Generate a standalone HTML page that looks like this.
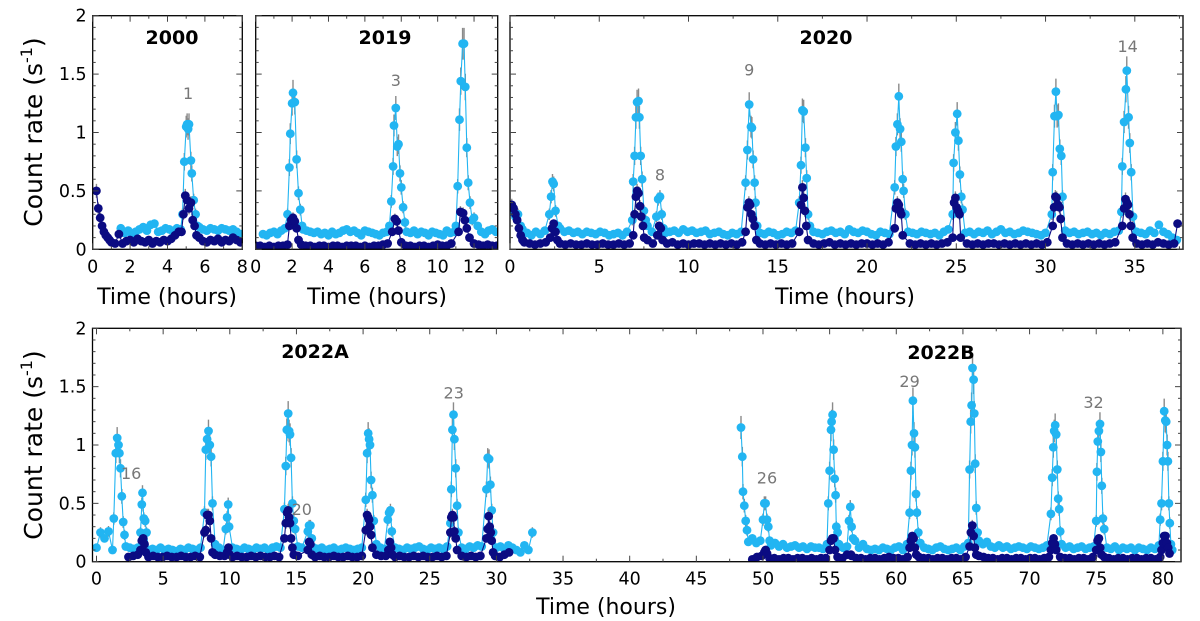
<!DOCTYPE html>
<html><head><meta charset="utf-8"><style>
html,body{margin:0;padding:0;background:#fff}
svg{display:block}
text{font-family:"DejaVu Sans","Liberation Sans",sans-serif}
</style></head><body>
<svg id="chart" width="1200" height="621" viewBox="0 0 1200 621" xmlns="http://www.w3.org/2000/svg"></svg>
<script>
// ---- data (time in hours, count rate in s^-1) ----
// base segments: [startTime, step, values]
const p1LightBase=[[1.5,0.2,[0.18,0.14,0.16,0.13,0.15,0.17,0.19,0.16,0.21,0.22,0.15,0.16,0.18,0.17,0.15,0.18,0.17]],[5.7,0.2,[0.19,0.17,0.16,0.18,0.17,0.16,0.18,0.17,0.16,0.17,0.15,0.13]]];
const p1LightFlare=[[4.8,0.3],[4.9,0.75],[5.0,1.05],[5.05,1.07],[5.1,1.03],[5.15,1.07],[5.25,0.76],[5.3,0.65],[5.4,0.42],[5.5,0.3],[5.6,0.2]];
const p1DarkBase=[[1.0,0.2,[0.06,0.05,0.13,0.05,0.07,0.08,0.06,0.09,0.07,0.06,0.08,0.05,0.07,0.06,0.08,0.07,0.09,0.12,0.15]],[5.7,0.2,[0.1,0.07,0.06,0.08,0.07,0.09,0.06,0.08,0.07,0.1,0.08,0.06]]];
const p1DarkFlare=[[0.2,0.5],[0.3,0.35],[0.4,0.27],[0.5,0.2],[0.6,0.15],[0.7,0.12],[0.8,0.1],[0.9,0.08],[4.75,0.15],[4.85,0.3],[4.95,0.46],[5.05,0.42],[5.15,0.35],[5.25,0.4],[5.35,0.25],[5.45,0.2],[5.55,0.12]];

const p2LightBase=[[0.4,0.2,[0.13,0.12,0.14,0.15,0.13,0.16,0.18]],[2.6,0.2,[0.17,0.16,0.15,0.14,0.15,0.13,0.14,0.12,0.15,0.13,0.14,0.16,0.17,0.15,0.16,0.14,0.12,0.16,0.15,0.14,0.13,0.12,0.14,0.15]],[8.3,0.2,[0.15,0.14,0.16,0.13,0.15,0.14,0.12,0.15,0.14,0.13,0.12,0.16,0.14,0.15]],[12.0,0.2,[0.27,0.2,0.15,0.13,0.16,0.17,0.15]]];
const p2LightFlare=[[1.75,0.3],[1.85,0.7],[1.9,0.99],[2.0,1.25],[2.05,1.34],[2.15,1.26],[2.25,0.77],[2.35,0.48],[2.45,0.34],[2.55,0.2],[7.35,0.2],[7.45,0.41],[7.55,0.71],[7.6,1.06],[7.7,1.21],[7.78,0.88],[7.85,0.9],[7.93,0.65],[8.0,0.53],[8.1,0.36],[8.2,0.23],[11.0,0.2],[11.1,0.54],[11.2,1.11],[11.27,1.44],[11.37,1.76],[11.45,1.76],[11.52,1.39],[11.6,0.87],[11.68,0.57],[11.78,0.4],[11.9,0.25]];
const p2DarkBase=[[0,0.25,[0.03,0.03,0.02,0.03,0.02,0.03,0.03,0.04]],[2.5,0.25,[0.04,0.03,0.03,0.02,0.03,0.03,0.02,0.03,0.03,0.02,0.03,0.03,0.03,0.02,0.03,0.02,0.03,0.03,0.04,0.05]],[8.25,0.25,[0.03,0.03,0.02,0.03,0.03,0.02,0.03,0.04,0.03,0.03,0.05]],[12.0,0.25,[0.05,0.04,0.03,0.04,0.03,0.03]]];
const p2DarkFlare=[[1.85,0.2],[1.95,0.25],[2.05,0.27],[2.15,0.24],[2.25,0.18],[2.35,0.08],[7.5,0.15],[7.65,0.26],[7.75,0.24],[7.85,0.16],[8.0,0.06],[11.15,0.15],[11.25,0.32],[11.4,0.31],[11.5,0.25],[11.6,0.18],[11.75,0.1]];

const p3LightBase=[[0.7,0.25,[0.17,0.14,0.12,0.15,0.13,0.16]],[2.8,0.25,[0.18,0.15,0.16,0.14,0.15,0.13,0.15,0.14,0.13,0.15,0.14,0.12,0.13,0.14,0.12,0.15]],[7.7,0.25,[0.2,0.15]],[8.7,0.25,[0.14,0.15,0.16,0.14,0.17,0.15,0.16,0.14,0.15,0.16,0.13,0.14,0.15,0.13,0.12,0.14,0.13,0.15]],[14.0,0.25,[0.14,0.13,0.15,0.14,0.12,0.13,0.15,0.14,0.16]],[17.0,0.25,[0.15,0.14,0.13,0.15,0.16,0.14,0.15,0.13,0.17,0.15,0.14,0.16,0.15,0.13,0.12,0.15,0.14,0.13]],[22.3,0.25,[0.15,0.14,0.13,0.15,0.14,0.13,0.14,0.12,0.15,0.17]],[25.5,0.25,[0.14,0.15,0.13,0.15,0.14,0.16,0.13,0.15,0.17,0.14,0.15,0.13,0.14,0.16,0.15,0.14,0.13,0.12,0.14]],[31.1,0.25,[0.16,0.14,0.15,0.13,0.14,0.15,0.13,0.14,0.12,0.14,0.13,0.15,0.16]],[35.1,0.25,[0.15,0.14,0.13,0.16,0.14,0.21,0.15,0.13,0.1,0.08]]];
const p3LightFlare=[[0,0.36],[0.15,0.32],[0.3,0.28],[0.45,0.3],[0.6,0.2],[2.2,0.3],[2.3,0.45],[2.38,0.58],[2.45,0.56],[2.55,0.33],[2.7,0.2],[6.85,0.25],[6.9,0.58],[6.98,0.8],[7.05,1.13],[7.12,1.26],[7.2,1.27],[7.25,1.13],[7.32,0.8],[7.4,0.6],[7.5,0.33],[7.6,0.25],[8.2,0.28],[8.3,0.43],[8.4,0.45],[8.5,0.3],[8.6,0.18],[13.2,0.57],[13.3,0.85],[13.4,1.24],[13.5,1.05],[13.55,1.04],[13.62,0.77],[13.7,0.57],[13.75,0.4],[13.85,0.2],[16.2,0.4],[16.3,0.72],[16.38,1.19],[16.45,1.18],[16.55,0.87],[16.62,0.61],[16.7,0.3],[16.8,0.2],[21.55,0.53],[21.62,0.88],[21.7,1.07],[21.78,1.31],[21.85,1.03],[21.92,0.92],[22.0,0.6],[22.05,0.5],[22.15,0.3],[24.8,0.3],[24.85,0.74],[24.95,1.0],[25.05,1.16],[25.12,0.93],[25.2,0.64],[25.28,0.45],[25.35,0.34],[30.35,0.3],[30.4,0.66],[30.5,1.14],[30.58,1.35],[30.65,1.14],[30.72,1.15],[30.8,0.86],[30.88,0.8],[30.95,0.45],[34.25,0.32],[34.3,0.71],[34.4,1.09],[34.5,1.37],[34.55,1.53],[34.65,1.13],[34.72,0.91],[34.8,0.66],[34.9,0.28]];
const p3DarkBase=[[0.8,0.3,[0.06,0.05,0.04,0.05,0.06]],[2.8,0.3,[0.05,0.04,0.05,0.04,0.04,0.05,0.04,0.04,0.05,0.04,0.04,0.05,0.04,0.05]],[7.7,0.3,[0.08,0.05]],[8.8,0.3,[0.05,0.06,0.04,0.05,0.04,0.05,0.05,0.04,0.05,0.04,0.05,0.04,0.05,0.04,0.06]],[14.0,0.3,[0.05,0.04,0.05,0.04,0.05,0.04,0.05]],[17.0,0.3,[0.05,0.04,0.05,0.06,0.04,0.05,0.04,0.05,0.04,0.05,0.05,0.04,0.05,0.04,0.06]],[22.4,0.3,[0.05,0.04,0.05,0.04,0.05,0.04,0.05,0.06]],[25.6,0.3,[0.05,0.04,0.05,0.04,0.05,0.05,0.04,0.05,0.04,0.05,0.04,0.05,0.04,0.05,0.04,0.06]],[31.2,0.3,[0.05,0.04,0.05,0.04,0.05,0.04,0.05,0.04,0.05,0.06]],[35.1,0.3,[0.05,0.04,0.05,0.04,0.06,0.05,0.04,0.05]]];
const p3DarkFlare=[[0.1,0.38],[0.2,0.35],[0.3,0.3],[0.4,0.25],[0.5,0.18],[0.6,0.12],[0.7,0.08],[2.25,0.1],[2.35,0.18],[2.45,0.22],[2.55,0.15],[2.65,0.08],[6.9,0.12],[6.98,0.3],[7.05,0.45],[7.12,0.5],[7.2,0.48],[7.28,0.37],[7.35,0.28],[7.45,0.2],[7.52,0.1],[8.25,0.12],[8.35,0.2],[8.45,0.18],[8.55,0.08],[13.2,0.15],[13.3,0.36],[13.38,0.4],[13.45,0.38],[13.52,0.3],[13.6,0.26],[13.7,0.2],[13.8,0.08],[16.2,0.15],[16.3,0.38],[16.38,0.53],[16.45,0.44],[16.52,0.33],[16.6,0.2],[16.7,0.08],[21.55,0.18],[21.62,0.35],[21.7,0.4],[21.78,0.38],[21.85,0.33],[21.92,0.3],[22.0,0.12],[24.8,0.1],[24.88,0.4],[24.95,0.44],[25.02,0.36],[25.1,0.33],[25.18,0.3],[25.25,0.1],[30.4,0.2],[30.48,0.36],[30.55,0.45],[30.62,0.44],[30.7,0.38],[30.78,0.36],[30.85,0.26],[30.95,0.1],[34.3,0.2],[34.4,0.35],[34.48,0.43],[34.55,0.4],[34.62,0.38],[34.7,0.3],[34.78,0.2],[34.88,0.1],[37.4,0.22]];

const p4LightBase=[[0.0,0.3,[0.12,0.25,0.2,0.26,0.1]],[2.2,0.3,[0.13,0.12,0.11,0.12]],[3.9,0.3,[0.1,0.11,0.1,0.12,0.1,0.11,0.1,0.09,0.11,0.1,0.12,0.11,0.1,0.12]],[8.9,0.3,[0.15,0.12,0.1]],[10.2,0.3,[0.12,0.11,0.1,0.12,0.11,0.1,0.12,0.11,0.12,0.1,0.12,0.13,0.12]],[15.1,0.3,[0.13,0.12]],[16.3,0.3,[0.12,0.11,0.12,0.1,0.11,0.12,0.1,0.11,0.12,0.11,0.1,0.11,0.12]],[21.0,0.3,[0.15,0.12,0.11]],[22.4,0.3,[0.12,0.11,0.1,0.12,0.11,0.12,0.13,0.11,0.1,0.12,0.11,0.12,0.11,0.13]],[27.4,0.3,[0.12,0.11,0.13,0.12,0.14,0.13]],[30.0,0.3,[0.12,0.13,0.11,0.14,0.12,0.1,0.08,0.14,0.1,0.25]],
 [48.9,0.3,[0.17,0.2,0.16,0.18]],[50.6,0.3,[0.14,0.16,0.13,0.15,0.12,0.13,0.14,0.12,0.13,0.11,0.13,0.12,0.12,0.11,0.15]],[55.7,0.3,[0.15,0.12,0.13]],[56.9,0.3,[0.18,0.12,0.15,0.11,0.1,0.11,0.1,0.12,0.11,0.1,0.12,0.13,0.1,0.15]],[61.8,0.3,[0.16,0.12,0.11,0.1,0.12,0.13,0.11,0.1,0.11,0.12,0.1,0.13,0.16]],[66.2,0.3,[0.18,0.15,0.17,0.13,0.12,0.14,0.12,0.13,0.11,0.12,0.13,0.12,0.11,0.13,0.12,0.11,0.12,0.14]],[72.4,0.3,[0.15,0.12,0.13,0.11,0.12,0.13,0.11,0.12,0.13]],[75.8,0.3,[0.12,0.11,0.13,0.1,0.12,0.11,0.12,0.1,0.12,0.11,0.1,0.12,0.11,0.14]],[80.7,0.3,[0.1]]];
const p4LightFlare=[[1.3,0.37],[1.45,0.93],[1.55,1.06],[1.65,1.0],[1.72,0.93],[1.8,0.8],[1.9,0.56],[2.0,0.34],[2.1,0.23],[3.3,0.25],[3.4,0.49],[3.45,0.59],[3.55,0.37],[3.65,0.35],[3.75,0.25],[8.1,0.42],[8.2,0.96],[8.3,1.05],[8.4,1.12],[8.5,1.0],[8.6,0.9],[8.7,0.5],[9.7,0.28],[9.8,0.38],[9.88,0.49],[9.95,0.3],[14.1,0.45],[14.2,0.82],[14.28,1.13],[14.38,1.27],[14.45,1.12],[14.52,1.09],[14.6,0.89],[14.7,0.5],[14.8,0.35],[14.9,0.28],[15.85,0.26],[15.95,0.31],[16.05,0.31],[16.15,0.2],[20.2,0.53],[20.3,0.93],[20.38,1.1],[20.45,1.05],[20.52,1.0],[20.6,0.7],[20.7,0.57],[20.8,0.35],[21.85,0.36],[21.95,0.42],[22.05,0.44],[22.15,0.26],[26.55,0.33],[26.62,0.62],[26.7,1.13],[26.78,1.26],[26.85,1.05],[26.95,0.8],[27.05,0.48],[27.15,0.25],[29.25,0.62],[29.35,0.89],[29.45,0.88],[29.55,0.66],[29.65,0.44],[29.75,0.25],
 [48.35,1.15],[48.45,0.9],[48.5,0.6],[48.6,0.48],[48.7,0.35],[48.8,0.27],[50.0,0.36],[50.1,0.5],[50.2,0.5],[50.3,0.36],[50.4,0.3],[50.5,0.18],[54.9,0.5],[55.0,0.78],[55.1,1.13],[55.15,1.2],[55.22,1.26],[55.3,0.96],[55.38,0.71],[55.45,0.57],[55.5,0.3],[55.6,0.25],[56.45,0.35],[56.55,0.47],[56.65,0.3],[56.75,0.2],[61.0,0.42],[61.1,0.78],[61.18,1.0],[61.25,1.38],[61.33,1.1],[61.4,0.98],[61.48,0.58],[61.55,0.42],[61.65,0.25],[65.5,0.79],[65.58,1.2],[65.65,1.34],[65.72,1.66],[65.8,1.56],[65.85,1.27],[65.92,0.84],[66.0,0.46],[66.1,0.25],[71.6,0.41],[71.7,0.72],[71.78,0.98],[71.85,1.12],[71.92,1.17],[72.0,1.09],[72.08,0.79],[72.15,0.54],[72.22,0.45],[72.3,0.26],[75.0,0.35],[75.05,0.77],[75.12,1.03],[75.2,1.12],[75.28,1.18],[75.35,0.94],[75.42,0.65],[75.5,0.37],[75.6,0.28],[79.8,0.36],[79.9,0.5],[80.0,0.86],[80.1,1.29],[80.18,1.21],[80.25,1.2],[80.32,1.0],[80.38,0.86],[80.45,0.5],[80.52,0.33],[80.6,0.15]];
const p4DarkBase=[[2.4,0.35,[0.04,0.05,0.06]],[3.9,0.35,[0.04,0.05,0.04,0.04,0.05,0.04,0.04,0.05,0.04,0.04,0.05,0.04]],[8.9,0.35,[0.06,0.05,0.05]],[10.2,0.35,[0.04,0.05,0.04,0.04,0.05,0.04,0.05,0.04,0.04,0.05,0.04]],[15.1,0.35,[0.05]],[16.4,0.35,[0.04,0.05,0.04,0.04,0.05,0.04,0.04,0.05,0.04,0.04,0.05]],[21.0,0.35,[0.06,0.05,0.05]],[22.4,0.35,[0.04,0.05,0.04,0.04,0.05,0.04,0.05,0.04,0.04,0.05,0.04,0.05]],[27.4,0.35,[0.05,0.04,0.05,0.04,0.05]],[29.9,0.35,[0.05,0.04,0.06,0.08]],
 [49.2,0.35,[0.02,0.04,0.05]],[50.5,0.35,[0.03,0.03,0.02,0.03,0.03,0.02,0.03,0.03,0.02,0.03,0.02,0.03,0.03]],[55.6,0.35,[0.04,0.03,0.06,0.05,0.03,0.03,0.02,0.03,0.03,0.02,0.03,0.04,0.03,0.03,0.02,0.04]],[61.7,0.35,[0.04,0.03,0.03,0.02,0.03,0.03,0.02,0.03,0.03,0.02,0.04]],[66.2,0.35,[0.05,0.04,0.03,0.03,0.02,0.03,0.03,0.02,0.03,0.03,0.02,0.03,0.03,0.02,0.03,0.04]],[72.3,0.35,[0.04,0.03,0.03,0.02,0.03,0.03,0.02,0.04]],[75.6,0.35,[0.04,0.03,0.02,0.03,0.03,0.02,0.03,0.03,0.02,0.03,0.03,0.02,0.04]]];
const p4DarkFlare=[[3.3,0.1],[3.4,0.18],[3.5,0.2],[3.6,0.15],[3.7,0.08],[8.1,0.25],[8.2,0.27],[8.3,0.4],[8.4,0.4],[8.5,0.35],[8.6,0.2],[8.7,0.08],[9.8,0.08],[9.9,0.12],[10.0,0.06],[14.1,0.2],[14.2,0.33],[14.3,0.42],[14.38,0.44],[14.45,0.38],[14.52,0.33],[14.6,0.2],[14.7,0.12],[14.8,0.06],[15.85,0.1],[15.95,0.17],[16.05,0.15],[16.15,0.06],[20.2,0.27],[20.3,0.4],[20.38,0.38],[20.45,0.36],[20.52,0.3],[20.6,0.23],[20.7,0.12],[21.9,0.1],[22.0,0.17],[22.1,0.12],[22.2,0.06],[26.55,0.25],[26.62,0.38],[26.7,0.4],[26.78,0.38],[26.85,0.26],[26.95,0.2],[27.05,0.1],[29.25,0.2],[29.35,0.28],[29.42,0.39],[29.5,0.3],[29.58,0.25],[29.65,0.18],[29.75,0.08],
 [50.1,0.08],[50.2,0.1],[50.3,0.07],[55.0,0.1],[55.1,0.18],[55.2,0.2],[55.3,0.2],[55.4,0.1],[56.6,0.06],[61.0,0.12],[61.1,0.18],[61.2,0.22],[61.3,0.2],[61.4,0.12],[61.5,0.06],[65.5,0.13],[65.6,0.25],[65.7,0.31],[65.8,0.22],[65.9,0.12],[66.0,0.06],[71.6,0.1],[71.7,0.16],[71.8,0.2],[71.9,0.15],[72.0,0.1],[75.0,0.1],[75.1,0.18],[75.2,0.2],[75.3,0.12],[75.4,0.06],[79.9,0.1],[80.0,0.16],[80.1,0.22],[80.2,0.22],[80.3,0.16],[80.4,0.12],[80.5,0.07]];

const yTicks=[0,0.5,1,1.5,2];
const yTickLabels=["0","0.5","1","1.5","2"];
const p1XTicks=[0,2,4,6,8], p2XTicks=[0,2,4,6,8,10,12], p3XTicks=[0,5,10,15,20,25,30,35], p4XTicks=[0,5,10,15,20,25,30,35,40,45,50,55,60,65,70,75,80];
const flareLabels=[["p1","1",5.1,1.34],["p2","3",7.7,1.45],["p3","9",13.4,1.54],["p3","8",8.4,0.64],["p3","14",34.6,1.74],["p4","16",2.6,0.76],["p4","20",15.4,0.45],["p4","23",26.8,1.45],["p4","26",50.3,0.72],["p4","29",61.0,1.55],["p4","32",74.8,1.37]];

// ---- layout ----
const panels={
 p1:{x0:92.7,x1:242.3,y0:15.7,y1:249.3,tmin:0,tmax:8,xt:p1XTicks,minor:1,title:"2000",tx:172,ty:37,lb:p1LightBase,lf:p1LightFlare,db:p1DarkBase,df:p1DarkFlare,ylab:true},
 p2:{x0:255.7,x1:497.7,y0:15.7,y1:249.3,tmin:0,tmax:13.3,xt:p2XTicks,minor:1,title:"2019",tx:385,ty:37,lb:p2LightBase,lf:p2LightFlare,db:p2DarkBase,df:p2DarkFlare,ylab:false},
 p3:{x0:510,x1:1183,y0:15.7,y1:249.3,tmin:0,tmax:37.7,xt:p3XTicks,minor:2.5,title:"2020",tx:826,ty:37,lb:p3LightBase,lf:p3LightFlare,db:p3DarkBase,df:p3DarkFlare,ylab:false},
 p4:{x0:92.5,x1:1181,y0:328.3,y1:561.7,tmin:-0.3,tmax:81.36,xt:p4XTicks,minor:2.5,title:"",tx:0,ty:0,lb:p4LightBase,lf:p4LightFlare,db:p4DarkBase,df:p4DarkFlare,ylab:true}
};
const NS="http://www.w3.org/2000/svg";
const svg=document.getElementById('chart');
function mk(tag,attrs,parent){const e=document.createElementNS(NS,tag);for(const k in attrs)e.setAttribute(k,attrs[k]);(parent||svg).appendChild(e);return e;}
const LIGHT="#22b5f2", DARK="#0b0b82";

function merge(base,flare){
 const pts=[];
 base.forEach(s=>{s[2].forEach((v,i)=>pts.push([s[0]+s[1]*i,v]));});
 flare.forEach(p=>pts.push([p[0],p[1]]));
 pts.sort((a,b)=>a[0]-b[0]);
 return pts;
}

for(const key in panels){
 const P=panels[key];
 const xs=t=>P.x0+(t-P.tmin)/(P.tmax-P.tmin)*(P.x1-P.x0);
 const ys=v=>P.y1-v/2*(P.y1-P.y0);
 P.xs=xs;P.ys=ys;
 const g=mk('g',{});
  
 const clip=mk('clipPath',{id:'c'+key},g);
 mk('rect',{x:P.x0,y:P.y0,width:P.x1-P.x0,height:P.y1-P.y0},clip);
 const plot=mk('g',{'clip-path':'url(#c'+key+')'},g);
  
 const series=[[merge(P.lb,P.lf),LIGHT,'light-series'],[merge(P.db,P.df),DARK,'dark-series']];
 series.forEach(([pts,col,name])=>{
  const sg=mk('g',{},plot);
   
  pts.forEach(p=>{ if(p[1]>0.22){const e=0.03+0.06*p[1];
   const eb=mk('line',{x1:xs(p[0]),x2:xs(p[0]),y1:ys(p[1]+e),y2:ys(Math.max(0,p[1]-e)),stroke:'#8a8a8a','stroke-width':1.4},sg);
    }});
  let d='';pts.forEach((p,i)=>{const gap=i>0&&p[0]-pts[i-1][0]>3;d+=(i===0||gap?'M':'L')+xs(p[0]).toFixed(1)+','+ys(p[1]).toFixed(1);});
  const ln=mk('path',{d:d,fill:'none',stroke:col,'stroke-width':1.1},sg);
   
  pts.forEach(p=>{const c=mk('circle',{cx:xs(p[0]).toFixed(1),cy:ys(p[1]).toFixed(1),r:4.4,fill:col},sg);
    });
 });
 const fr=mk('rect',{x:P.x0,y:P.y0,width:P.x1-P.x0,height:P.y1-P.y0,fill:'none',stroke:'#000','stroke-width':1.3},g);
  
 for(let k=0;k<=20;k++){const v=k/10,y=ys(v),L=(k%5===0)?6:3;
  mk('line',{x1:P.x0,x2:P.x0+L,y1:y,y2:y,stroke:'#444','stroke-width':1},g);
  mk('line',{x1:P.x1,x2:P.x1-L,y1:y,y2:y,stroke:'#444','stroke-width':1},g);}
 if(P.ylab){yTicks.forEach((v,i)=>{const t=mk('text',{x:P.x0-6,y:ys(v)+6,'text-anchor':'end','font-size':17.5,fill:'#000'},g);t.textContent=yTickLabels[i];
   });}
 for(let t=0;t<=P.tmax+1e-6;t+=P.minor){const x=xs(t);const maj=P.xt.some(v=>Math.abs(v-t)<1e-6);const L=maj?6:3;
  mk('line',{x1:x,x2:x,y1:P.y1,y2:P.y1-L,stroke:'#444','stroke-width':1},g);
  mk('line',{x1:x,x2:x,y1:P.y0,y2:P.y0+L,stroke:'#444','stroke-width':1},g);}
 P.xt.forEach(v=>{const t=mk('text',{x:xs(v),y:P.y1+23,'text-anchor':'middle','font-size':17.5,fill:'#000'},g);t.textContent=String(v);
   });
 if(P.title){const t=mk('text',{x:P.tx,y:P.ty+7,'text-anchor':'middle','font-size':19,'font-weight':'bold',fill:'#000'},g);t.textContent=P.title;
   }
}
[["2022A",315,358],["2022B",941,359]].forEach(a=>{const t=mk('text',{x:a[1],y:a[2],'text-anchor':'middle','font-size':19,'font-weight':'bold',fill:'#000'});t.textContent=a[0];
  });
flareLabels.forEach(f=>{const P=panels[f[0]];const t=mk('text',{x:P.xs(f[2]),y:P.ys(f[3])+6,'text-anchor':'middle','font-size':16,fill:'#777'});t.textContent=f[1];
  });
[[167,304],[377,304],[845,304],[606,614]].forEach(a=>{const t=mk('text',{x:a[0],y:a[1],'text-anchor':'middle','font-size':22,fill:'#000'});t.textContent="Time (hours)";
  });
[[132],[445]].forEach(a=>{const t=mk('text',{x:0,y:0,'text-anchor':'middle','font-size':25,fill:'#000',transform:'translate(42,'+a[0]+') rotate(-90)'});
  
 const s1=mk('tspan',{},t);s1.textContent="Count rate (s";
 const s2=mk('tspan',{'font-size':16,dy:-10},t);s2.textContent="-1";
 const s3=mk('tspan',{dy:10},t);s3.textContent=")";});
</script>
</body></html>
